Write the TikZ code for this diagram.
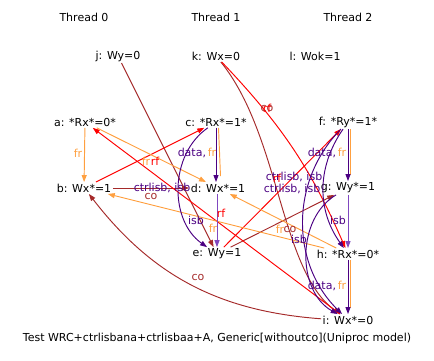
\documentclass[tikz,border=0pt]{standalone}
\usepackage{fontspec}
\setmainfont{DejaVu Sans}
\usetikzlibrary{arrows.meta}
\definecolor{cred}{RGB}{255,0,0}
\definecolor{cor}{RGB}{255,160,64}
\definecolor{cbr}{RGB}{165,42,42}
\definecolor{cin}{RGB}{75,0,130}
\definecolor{cvi}{RGB}{128,72,192}
\tikzset{
  ev/.style={inner sep=1.5pt, text=black},
  lbl/.style={inner sep=0pt},
  tip/.style={-{Triangle[length=7pt,width=5pt]}},
  ln/.style={line width=0.95pt},
  fre/.style={ln, tip, draw=cor},
  rfe/.style={ln, tip, draw=cred},
  coe/.style={ln, tip, draw=cbr},
  dae/.style={ln, tip, draw=cin},
  isbe/.style={ln, tip, draw=cvi},
}
\begin{document}
\begin{tikzpicture}[x=1pt,y=-1pt,font=\fontsize{11}{13}\selectfont]
\useasboundingbox (0,0) rectangle (434,361);
% titles
\node[ev] (t0) at (84,17) {Thread 0};
\node[ev] (t1) at (216,17) {Thread 1};
\node[ev] (t2) at (348,17) {Thread 2};
% events
\node[ev] (j) at (118,56) {j: Wy=0};
\node[ev] (k) at (216,56) {k: Wx=0};
\node[ev] (l) at (315,56) {l: Wok=1};
\node[ev] (a) at (85,122) {a: *Rx*=0*};
\node[ev] (c) at (216,122) {c: *Rx*=1*};
\node[ev] (f) at (348,122) {f: *Ry*=1*};
\node[ev] (b) at (84,188) {b: Wx*=1};
\node[ev] (d) at (218,188) {d: Wx*=1};
\node[ev] (g) at (348,188) {g: Wy*=1};
\node[ev] (e) at (217,254) {e: Wy=1};
\node[ev] (h) at (348,254) {h: *Rx*=0*};
\node[ev] (i) at (348,320) {i: Wx*=0};
\node[ev] (foot) at (217,338) {Test WRC+ctrlisbana+ctrlisbaa+A, Generic[withoutco](Uniproc model)};
% co edges
\draw[coe] (j) -- (e);
\draw[coe] (k) .. controls (280,135) and (280,270) .. (i);
\draw[coe] (b) -- (d);
\draw[coe] (i) to[bend left=24] (b);
\draw[coe] (e) -- (g);
% rf edges
\draw[rfe] (k) to[bend left=10] (h);
\draw[rfe] (b) -- (c);
\draw[rfe] (i) -- (a);
\draw[rfe] (e) -- (f);
% fr edges
\draw[fre] (a) -- (b);
\draw[fre] (a) -- (d);
\draw[fre] (h) -- (b);
\draw[fre] (h) -- (d);
% data + fr pairs
\draw[ln, draw=cor] ([xshift=2.5pt]c.south) -- ([xshift=2.5pt,yshift=6pt]d.north);
\draw[dae] (c.south) -- (c.south |- d.north);
\draw[ln, draw=cor] ([xshift=2.5pt]f.south) -- ([xshift=2.5pt,yshift=6pt]g.north);
\draw[dae] (f) -- (g);
\draw[ln, draw=cor] ([xshift=2.5pt]h.south) -- ([xshift=2.5pt,yshift=6pt]i.north);
\draw[dae] (h) -- (i);
% isb straight
\draw[isbe] (d.south -| e.north) -- (e.north);
\draw[isbe] (g) -- (h);
% ctrlisb / isb curves
\draw[dae] (c) to[bend right=55] (e);
\draw[dae] (f) to[bend right=35] (h);
\draw[dae] (f) to[bend right=45] (i);
\draw[dae] (g) to[bend right=60] (i);
% labels
\node[lbl, text=cor] (L1) at (78,153) {fr};
\node[lbl, text=cor] (L2) at (146,161) {fr};
\node[lbl, text=cred] (L3) at (155,161) {rf};
\node[lbl] (L4) at (197,153) {\textcolor{cin}{data,}\,\textcolor{cor}{fr}};
\node[lbl, text=cin] (L5) at (162,188) {ctrlisb, isb};
\node[lbl, text=cbr] (L6) at (151,196) {co};
\node[lbl, text=cin] (L7) at (196,220) {isb};
\node[lbl, text=cred] (L8) at (221,213) {rf};
\node[lbl, text=cor] (L9) at (213,228) {fr};
\node[lbl, text=cor] (L10) at (280,229) {fr};
\node[lbl, text=cbr] (L11) at (290,229) {co};
\node[lbl, text=cin] (L12) at (299,239) {isb};
\node[lbl, text=cin] (L13) at (338,220) {isb};
\node[lbl] (L14) at (327,153) {\textcolor{cin}{data,}\,\textcolor{cor}{fr}};
\node[lbl] (L15) at (327,286) {\textcolor{cin}{data,}\,\textcolor{cor}{fr}};
\node[lbl, text=cin] (L16) at (294,177) {ctrlisb, isb};
\node[lbl, text=cin] (L17) at (292,189) {ctrlisb, isb};
\node[lbl, text=cred] (L18) at (277,178) {rf};
\node[lbl, text=cbr] (L19) at (198,277) {co};
\node[lbl, text=cbr] (L20) at (267,108) {co};
\node[lbl, text=cred] (L21) at (267,108) {rf};
\end{tikzpicture}
\end{document}
